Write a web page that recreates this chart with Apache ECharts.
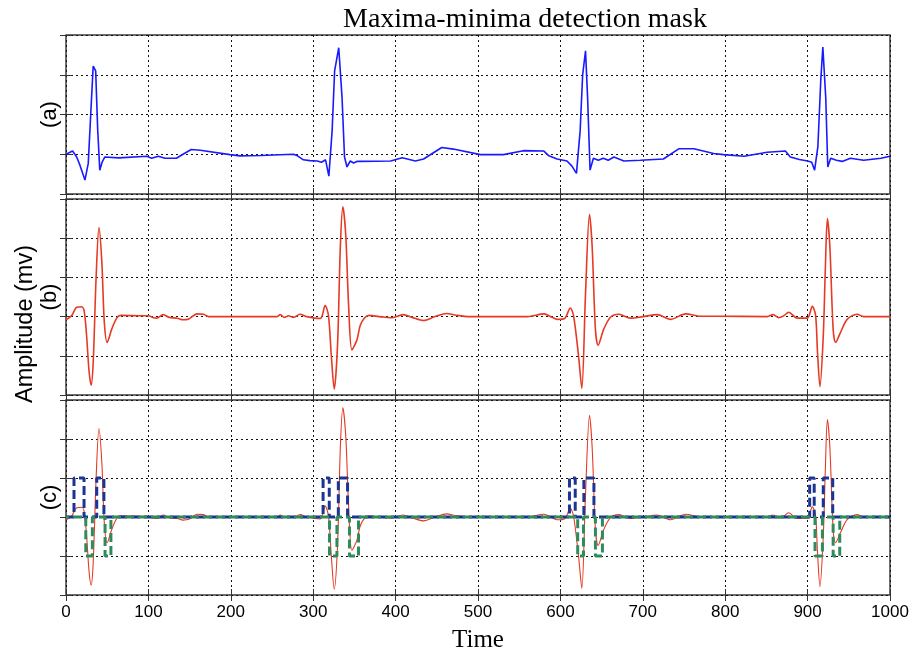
<!DOCTYPE html>
<html>
<head>
<meta charset="utf-8">
<script src="https://cdn.jsdelivr.net/npm/echarts@6/dist/echarts.min.js"></script>
<style>html,body{margin:0;padding:0;background:#fff;}#chart{width:909px;height:655px;}</style>
</head>
<body>
<div id="chart"></div>
<script>
// ---- Data ----
var xTicks = [0, 100, 200, 300, 400, 500, 600, 700, 800, 900, 1000];

// (a) raw ECG
var ecgT = [0, 8, 13, 17, 23, 27, 30, 33, 36, 38.5, 41, 44, 47, 64, 98, 104, 112, 120, 134, 142, 152, 163, 199, 211, 236, 276, 281, 288, 296, 305, 310, 312, 315, 319, 323, 326, 331, 335, 338, 341, 345, 349, 353, 357, 394, 408, 424, 434, 456, 470, 503, 531, 555, 580, 586, 596, 608, 614, 619.5, 624, 627, 630.5, 633, 636, 640, 646, 652, 658, 665, 677, 697, 725, 744, 762, 786, 798, 823, 851, 873, 879, 890, 900, 905, 908.5, 912.5, 916, 918.5, 922, 924.5, 928, 935, 942, 952, 968, 989, 1000];
var ecgV = [1.0, 1.08, 0.93, 0.72, 0.35, 0.77, 2.0, 3.22, 3.1, 1.6, 0.6, 0.81, 0.93, 0.91, 0.95, 0.9, 0.95, 0.9, 0.9, 1.0, 1.12, 1.1, 0.99, 0.96, 0.97, 1.0, 0.96, 0.86, 0.84, 0.83, 0.8, 0.82, 0.86, 0.45, 1.6, 3.1, 3.68, 2.43, 0.93, 0.68, 0.83, 0.78, 0.82, 0.82, 0.83, 0.91, 0.83, 0.88, 1.17, 1.13, 0.99, 0.99, 1.09, 1.08, 0.96, 0.88, 0.83, 0.7, 0.52, 1.6, 3.0, 3.6, 2.43, 0.6, 0.9, 0.85, 0.9, 0.85, 0.93, 0.83, 0.85, 0.88, 1.14, 1.14, 1.02, 0.99, 0.95, 1.05, 1.08, 0.93, 0.87, 0.83, 0.8, 0.6, 1.2, 2.87, 3.7, 2.43, 0.68, 0.9, 0.85, 0.82, 0.9, 0.85, 0.9, 0.95];

// (b)/(c) filtered signal
var filtT = [0, 7, 13, 19, 22, 25, 28, 30.5, 33, 36.5, 40, 43.5, 46.5, 50, 55.5, 61.5, 66, 94, 100, 106, 110, 118, 125, 135, 142, 149, 159, 167, 173, 199, 256, 260, 265, 270, 276, 284, 292, 308.5, 314.5, 318.5, 322, 325.5, 329.5, 333, 336, 339.5, 343, 347, 353, 357, 362, 368, 380, 395, 409, 420, 434, 448, 462, 472, 490, 560, 580, 590, 596, 605, 612, 616, 622, 626, 630.4, 635.3, 638.5, 642.5, 645.8, 652.6, 661, 671, 685, 700, 717.5, 733.6, 752, 770, 790, 851, 858, 865, 871, 877, 887.5, 899.6, 905.7, 909.7, 912, 915, 919, 921.5, 924, 927, 931, 934, 940, 948, 960, 968, 1000];
var filtV = [1.92, 2.03, 2.24, 2.25, 2.15, 1.51, 0.6, 0.25, 0.83, 2.97, 4.27, 3.39, 1.85, 1.34, 1.68, 1.96, 2.03, 2.02, 2.02, 1.97, 1.96, 2.05, 1.98, 1.96, 1.92, 1.94, 2.07, 2.06, 2.0, 2.0, 2.0, 2.05, 1.98, 2.02, 1.98, 2.06, 2.0, 1.95, 2.28, 2.03, 1.0, 0.15, 1.26, 3.82, 4.8, 4.08, 2.27, 1.15, 1.4, 1.77, 1.96, 2.03, 2.0, 1.97, 2.05, 1.98, 1.9, 2.0, 2.08, 2.04, 2.0, 2.0, 2.07, 1.98, 1.93, 1.95, 2.22, 2.02, 1.0, 0.17, 2.54, 4.61, 3.8, 1.68, 1.27, 1.68, 1.99, 2.06, 1.96, 2.0, 2.05, 1.93, 2.07, 2.01, 2.01, 2.0, 2.05, 1.97, 2.02, 2.11, 1.96, 1.96, 2.26, 2.03, 1.1, 0.21, 1.5, 3.2, 4.5, 3.8, 1.68, 1.34, 1.6, 1.93, 2.06, 2.0, 2.0];

// (c) masks: baseline level, maxima pulses (up) and minima pulses (down)
var maskBase = 2, maxLevel = 3, minLevel = 1;
var maxStart = [9.7, 37.3, 312, 330.5, 611, 628.5, 902.5, 919];
var maxEnd   = [21.9, 46, 319.5, 341.7, 618, 640.7, 908, 930.5];
var minStart = [24, 47.4, 319.8, 344, 621, 642.5, 909, 931];
var minEnd   = [32, 54.5, 328.8, 355, 628, 651, 918, 939];

// ---- build series data ----
function pairs(t, v) { return t.map(function (x, i) { return [x, v[i]]; }); }
function pulses(starts, ends, level) {
  var d = [[0, maskBase]];
  for (var i = 0; i < starts.length; i++) {
    d.push([starts[i], maskBase], [starts[i], level], [ends[i], level], [ends[i], maskBase]);
  }
  d.push([1000, maskBase]);
  return d;
}

var chart = echarts.init(document.getElementById('chart'), null, {renderer: 'canvas'});
var grids = [
  {left: 66, right: 19, top: 35, height: 159},
  {left: 66, right: 19, top: 199, height: 196},
  {left: 66, right: 19, top: 400, height: 195}
];
var yMax = [4, 5, 5];
var labels = ['(a)', '(b)', '(c)'];

var gridOpts = grids.map(function (g) {
  return Object.assign({show: true, borderColor: '#3c3c3c', borderWidth: 1.5, backgroundColor: '#fff',
    containLabel: false, outerBoundsMode: 'none'}, g);
});
var xAxes = [], yAxes = [];
for (var i = 0; i < 3; i++) {
  var last = i === 2;
  xAxes.push({
    type: 'value', gridIndex: i, min: 0, max: 1000, interval: 100, position: 'bottom',
    axisLine: {show: false},
    axisTick: {show: true, inside: true, length: 6, lineStyle: {color: '#333'}},
    axisLabel: {show: last, color: '#000', fontFamily: 'Liberation Sans, Arial', fontSize: 17, margin: 9,
      formatter: function (v) { return String(v); }},
    splitLine: {show: true, lineStyle: {color: '#111', type: [2, 3], width: 1}},
    name: last ? 'Time' : '', nameLocation: 'middle', nameGap: 33, nameMoveOverlap: false,
    nameTextStyle: {fontFamily: 'Liberation Serif, Times New Roman', fontSize: 25, color: '#000'}
  });
  xAxes.push({
    type: 'value', gridIndex: i, min: 0, max: 1000, interval: 100, position: 'top',
    axisLine: {show: false}, axisLabel: {show: false}, splitLine: {show: false},
    axisTick: {show: true, inside: true, length: 6, lineStyle: {color: '#333'}}
  });
  yAxes.push({
    type: 'value', gridIndex: i, min: 0, max: yMax[i], interval: 1, position: 'left',
    axisLine: {show: false}, axisLabel: {show: false},
    axisTick: {show: true, inside: true, length: 6, lineStyle: {color: '#333'}},
    splitLine: {show: true, lineStyle: {color: '#111', type: [2, 3], width: 1}},
    name: labels[i], nameLocation: 'middle', nameGap: 5, nameMoveOverlap: false,
    nameTextStyle: {fontFamily: 'Liberation Sans, Arial', fontSize: 22, color: '#000'}
  });
  yAxes.push({
    type: 'value', gridIndex: i, min: 0, max: yMax[i], interval: 1, position: 'right',
    axisLine: {show: false}, axisLabel: {show: false}, splitLine: {show: false},
    axisTick: {show: true, inside: true, length: 6, lineStyle: {color: '#333'}}
  });
}

var option = {
  animation: false,
  backgroundColor: '#fff',
  title: {
    text: 'Maxima-minima detection mask', left: 338, top: 1,
    textStyle: {fontFamily: 'Liberation Serif, Times New Roman', fontSize: 28, fontWeight: 'normal', color: '#000'}
  },
  graphic: [{
    type: 'text', left: 14, top: 245, rotation: Math.PI / 2,
    style: {text: 'Amplitude (mv)', font: '23.5px "Liberation Sans", Arial', fill: '#000'}
  }],
  grid: gridOpts,
  xAxis: xAxes,
  yAxis: yAxes,
  series: [
    {type: 'line', xAxisIndex: 0, yAxisIndex: 0, data: pairs(ecgT, ecgV), showSymbol: false,
     lineStyle: {color: '#1a1aff', width: 1.6}},
    {type: 'line', xAxisIndex: 2, yAxisIndex: 2, data: pairs(filtT, filtV), showSymbol: false, smooth: 0.3,
     lineStyle: {color: '#e63a24', width: 1.6}},
    {type: 'line', xAxisIndex: 4, yAxisIndex: 4, data: pairs(filtT, filtV), showSymbol: false, smooth: 0.3,
     lineStyle: {color: '#e63a24', width: 1.1}},
    {type: 'line', xAxisIndex: 4, yAxisIndex: 4, data: pulses(maxStart, maxEnd, maxLevel), showSymbol: false,
     lineStyle: {color: '#1c3592', width: 3, type: [9, 4]}},
    {type: 'line', xAxisIndex: 4, yAxisIndex: 4, data: pulses(minStart, minEnd, minLevel), showSymbol: false,
     lineStyle: {color: '#2f8b5c', width: 3, type: [9, 4], dashOffset: 6}}
  ]
};
chart.setOption(option);
</script>
</body>
</html>
